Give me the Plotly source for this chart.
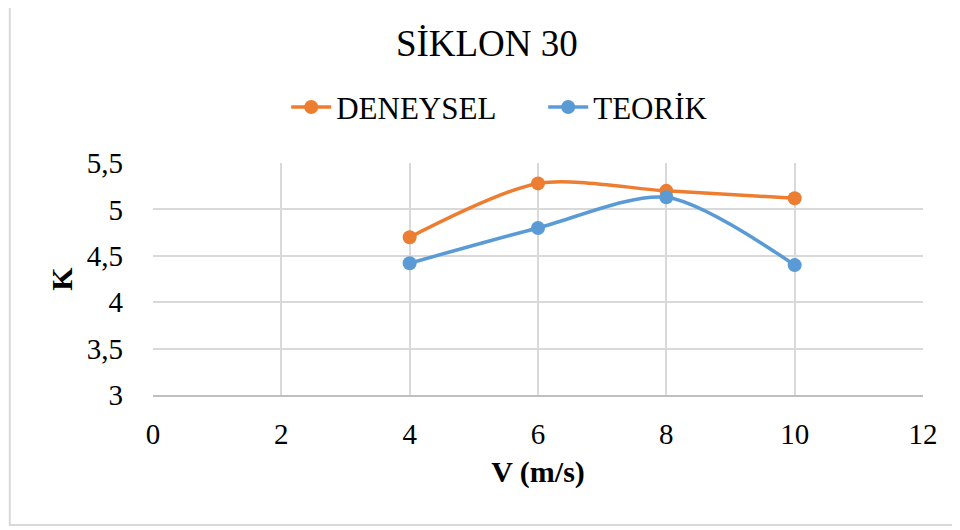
import plotly.graph_objects as go

# data
v_ms = [4, 6, 8, 10]
deneysel = [4.70, 5.28, 5.20, 5.12]
teorik = [4.42, 4.80, 5.13, 4.40]

ORANGE = "#ed7d31"
BLUE = "#5b9bd5"
FONT = "Liberation Serif"

fig = go.Figure()
fig.add_trace(go.Scatter(
    x=v_ms, y=deneysel, name="DENEYSEL", mode="lines+markers",
    line=dict(color=ORANGE, width=3.5, shape="spline", smoothing=0.8),
    marker=dict(color=ORANGE, size=14),
))
fig.add_trace(go.Scatter(
    x=v_ms, y=teorik, name="TEORİK", mode="lines+markers",
    line=dict(color=BLUE, width=3.5, shape="spline", smoothing=0.8),
    marker=dict(color=BLUE, size=14),
))

# light outer border of the chart box
fig.add_shape(type="rect", xref="paper", yref="paper",
              x0=-0.186, x1=1.06, y0=-0.5603, y1=1.75,
              line=dict(color="#d9d9d9", width=2), layer="below")

# page body adds an 8px margin, so the figure is a bit smaller than the window
fig.update_layout(
    width=952, height=522,
    paper_bgcolor="white", plot_bgcolor="white",
    separators=",.",
    font=dict(family=FONT, color="black", size=28),
    title=dict(text="SİKLON 30", x=0.503, xanchor="center", y=0.933, yanchor="middle",
               font=dict(family=FONT, size=37, color="black")),
    legend=dict(orientation="h", x=0.173, xanchor="left", y=1.24, yanchor="middle",
                font=dict(family=FONT, size=31, color="black"),
                itemwidth=40, entrywidth=202, bgcolor="rgba(0,0,0,0)"),
    margin=dict(l=145, r=37, t=155, b=135),
    showlegend=True,
)
fig.update_xaxes(range=[0, 12], dtick=2, tick0=0, showgrid=True, gridcolor="#d9d9d9",
                 gridwidth=1.5, zeroline=False, showline=True, linecolor="#bfbfbf",
                 linewidth=1.5, ticks="", ticklabelstandoff=12, automargin=False,
                 tickfont=dict(family=FONT, size=29),
                 title=dict(text="<b>V (m/s)</b>", standoff=12,
                            font=dict(family=FONT, size=30)))
fig.update_yaxes(range=[3, 5.5], dtick=0.5, tick0=3, showgrid=True, gridcolor="#d9d9d9",
                 gridwidth=1.5, zeroline=False, showline=False, ticks="",
                 ticklabelstandoff=29, automargin=False,
                 tickfont=dict(family=FONT, size=29),
                 title=dict(text="<b>K</b>", standoff=5,
                            font=dict(family=FONT, size=30)))

fig.write_html("out.html")
